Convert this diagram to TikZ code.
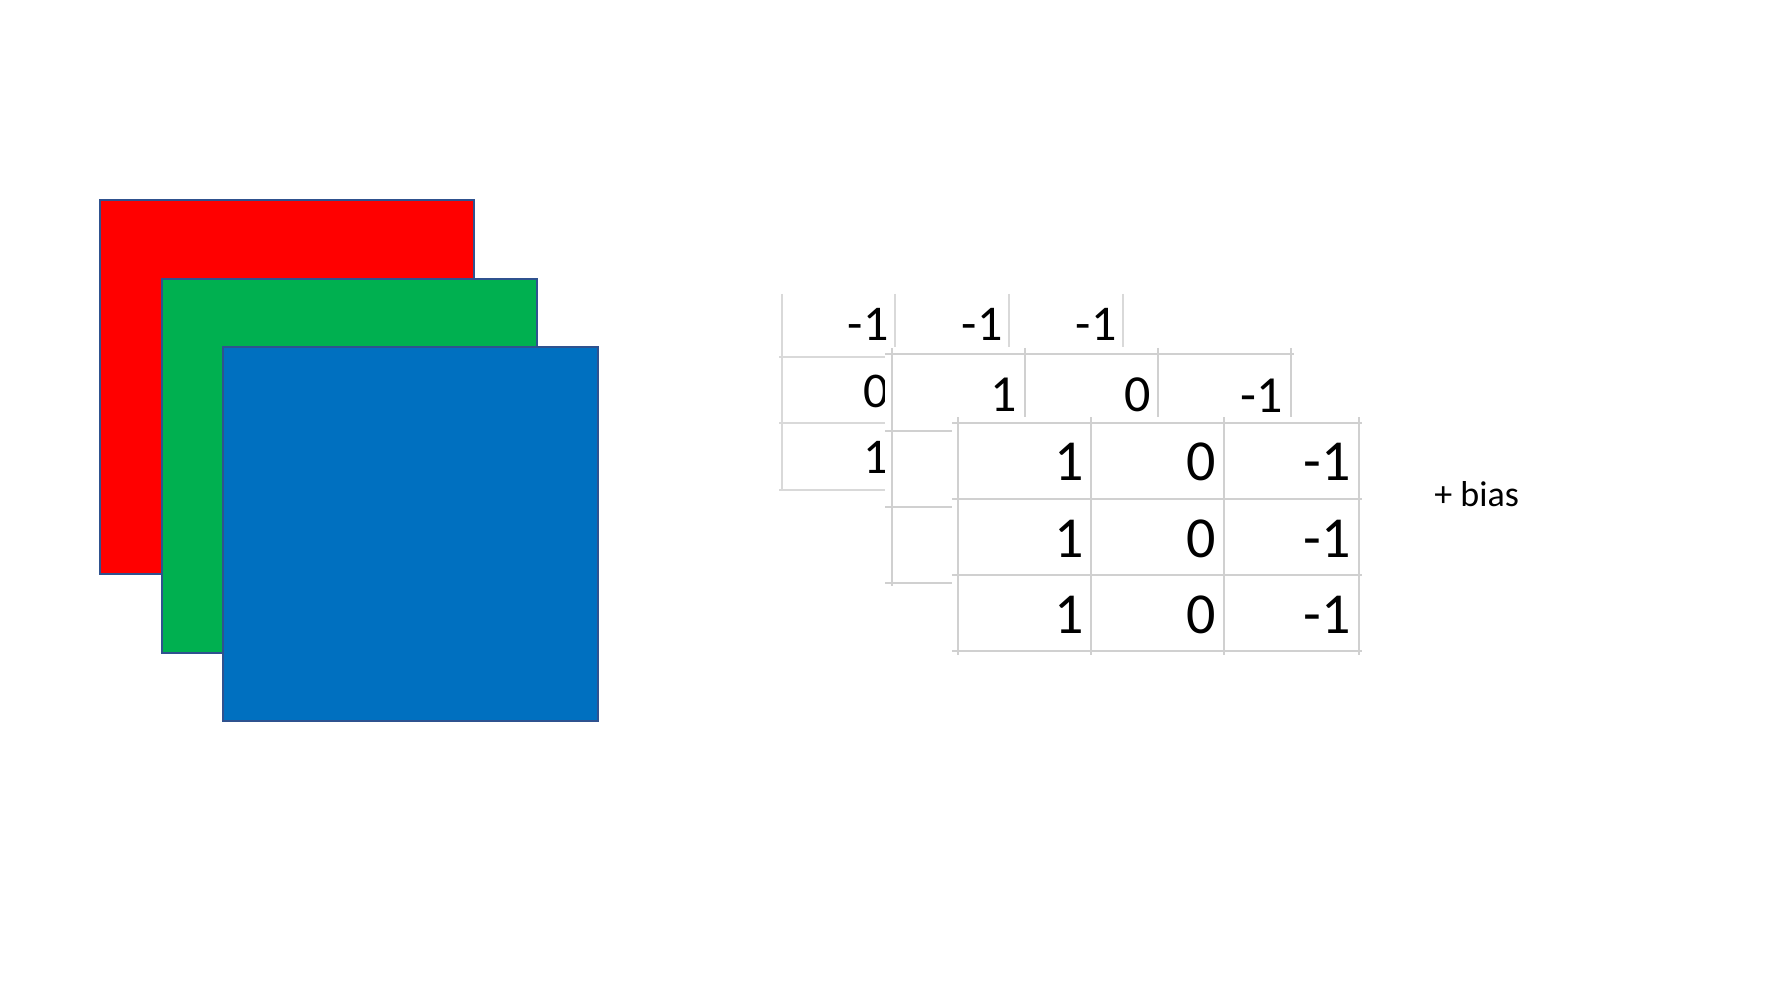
\documentclass[tikz,border=0pt]{standalone}
\usepackage{fontspec}
\setmainfont{Carlito}
\definecolor{sqred}{HTML}{FF0000}
\definecolor{sqgreen}{HTML}{00B050}
\definecolor{sqblue}{HTML}{0070C0}
\definecolor{sqedge}{HTML}{2F528F}
\definecolor{gridA}{HTML}{D0D0D0}
\definecolor{gridB}{HTML}{D9D9D9}
\begin{document}
\begin{tikzpicture}[x=0.5pt,y=-0.5pt,
  sq/.style={draw=sqedge,line width=0.9pt},
  gridback/.style={draw=gridB,line width=0.8pt},
  gridfront/.style={draw=gridA,line width=1.4pt},
  cover/.style={fill=white},
  numback/.style={anchor=base east,inner sep=0pt,font=\fontsize{25}{30}\selectfont},
  nummid/.style={anchor=base east,inner sep=0pt,font=\fontsize{26}{31}\selectfont},
  numfront/.style={anchor=base east,inner sep=0pt,font=\fontsize{29}{35}\selectfont},
  biastext/.style={anchor=base west,inner sep=0pt,font=\fontsize{18}{22}\selectfont}]
\useasboundingbox (0,0) rectangle (1778,1000);
\fill[white] (0,0) rectangle (1778,1000);
% input channels
\filldraw[sq,fill=sqred] (100,200) rectangle (474,574);
\filldraw[sq,fill=sqgreen] (162,279) rectangle (537,653);
\filldraw[sq,fill=sqblue] (223,347) rectangle (598,721);
% back kernel
\draw[gridback] (782,294) -- (782,490);
\draw[gridback] (895,294) -- (895,347);
\draw[gridback] (1009,294) -- (1009,347);
\draw[gridback] (1123,294) -- (1123,347);
\draw[gridback] (779,357) -- (885,357);
\draw[gridback] (779,423) -- (885,423);
\draw[gridback] (779,490) -- (885,490);
\node[numback] (b11) at (889,341) {-1};
\node[numback] (b12) at (1003,341) {-1};
\node[numback] (b13) at (1117,341) {-1};
\node[numback] (b21) at (889,408) {0};
\node[numback] (b31) at (889,473) {1};
% middle kernel
\fill[cover] (885,347) rectangle (1295,590);
\draw[gridfront] (892,348) -- (892,586);
\draw[gridfront] (1025,348) -- (1025,417);
\draw[gridfront] (1158,348) -- (1158,417);
\draw[gridfront] (1291,348) -- (1291,417);
\draw[gridfront] (885,354) -- (1294,354);
\draw[gridfront] (885,431) -- (952,431);
\draw[gridfront] (885,507) -- (952,507);
\draw[gridfront] (885,583) -- (952,583);
\node[nummid] (m11) at (1017,411) {1};
\node[nummid] (m12) at (1151,411) {0};
\node[nummid] (m13) at (1283,412) {-1};
% front kernel
\fill[cover] (952,417) rectangle (1362,656);
\foreach \xx in {958,1091,1224,1359} \draw[gridfront] (\xx,417) -- (\xx,655);
\foreach \yy in {423,499,575,651} \draw[gridfront] (952,\yy) -- (1362,\yy);
\node[numfront] (f11) at (1084,480) {1};
\node[numfront] (f12) at (1216,480) {0};
\node[numfront] (f13) at (1351,480) {-1};
\node[numfront] (f21) at (1084,557) {1};
\node[numfront] (f22) at (1216,557) {0};
\node[numfront] (f23) at (1351,557) {-1};
\node[numfront] (f31) at (1084,633) {1};
\node[numfront] (f32) at (1216,633) {0};
\node[numfront] (f33) at (1351,633) {-1};
\node[biastext] (bias) at (1434,506) {+ bias};
\end{tikzpicture}
\end{document}
